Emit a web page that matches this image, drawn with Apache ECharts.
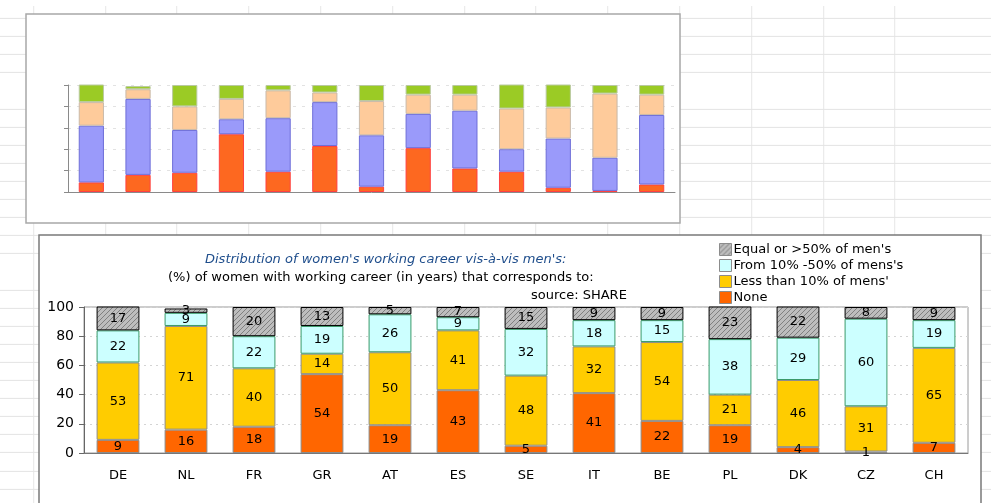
<!DOCTYPE html>
<html>
<head>
<meta charset="utf-8">
<script src="https://cdn.jsdelivr.net/npm/echarts@6/dist/echarts.min.js"></script>
<style>
  html, body {
    margin: 0;
    padding: 0;
    width: 991px;
    height: 503px;
    overflow: hidden;
    background-color: #fff;
    background-image:
      linear-gradient(#fff, #fff),
      repeating-linear-gradient(to bottom, transparent 0, transparent 17.1px, #e3e3e3 17.1px, #e3e3e3 18.1px),
      repeating-linear-gradient(to right, transparent 0, transparent 70.8px, #e6e6e6 70.8px, #e6e6e6 71.8px);
    background-size: 991px 6px, auto, auto;
    background-repeat: no-repeat, repeat, repeat;
    background-position: 0 0, 0 0.9px, -37.8px 0;
  }
  #chart {
    width: 991px;
    height: 503px;
  }
</style>
</head>
<body>
<div id="chart"></div>
<script>
// SHARE: distribution of women's working career vis-a-vis men's (%)
const countries = ['DE', 'NL', 'FR', 'GR', 'AT', 'ES', 'SE', 'IT', 'BE', 'PL', 'DK', 'CZ', 'CH']
const none = [9, 16, 18, 54, 19, 43, 5, 41, 22, 19, 4, 1, 7]
const lessThan10 = [53, 71, 40, 14, 50, 41, 48, 32, 54, 21, 46, 31, 65]
const from10to50 = [22, 9, 22, 19, 26, 9, 32, 18, 15, 38, 29, 60, 19]
const equalOrMore50 = [17, 3, 20, 13, 5, 7, 15, 9, 9, 23, 22, 8, 9]
const yTicks = [0, 20, 40, 60, 80, 100]

const seriesNames = [
  'None',
  "Less than 10% of mens'",
  "From 10% -50% of mens's",
  "Equal or >50% of men's"
]

const FONT = 'DejaVu Sans'

function hatchPattern() {
  const c = document.createElement('canvas')
  c.width = 5
  c.height = 5
  const g = c.getContext('2d')
  g.fillStyle = '#bdbdbd'
  g.fillRect(0, 0, 5, 5)
  g.strokeStyle = '#808080'
  g.lineWidth = 1
  g.beginPath()
  g.moveTo(0, 5); g.lineTo(5, 0)
  g.moveTo(-2.5, 2.5); g.lineTo(2.5, -2.5)
  g.moveTo(2.5, 7.5); g.lineTo(7.5, 2.5)
  g.stroke()
  return c
}

const chart = echarts.init(document.getElementById('chart'))

const lowerLabel = {
  show: true,
  position: 'inside',
  color: '#000',
  fontFamily: FONT,
  fontSize: 13
}

function lowerSeries(name, data, color, border) {
  return {
    name: name,
    type: 'bar',
    stack: 'lower',
    xAxisIndex: 1,
    yAxisIndex: 1,
    barCategoryGap: '37%',
    data: data,
    itemStyle: {color: color, borderColor: border, borderWidth: 1},
    label: lowerLabel,
    emphasis: {disabled: true}
  }
}

function upperSeries(name, data, color, border) {
  return {
    name: name,
    type: 'bar',
    stack: 'upper',
    xAxisIndex: 0,
    yAxisIndex: 0,
    barCategoryGap: '46%',
    data: data,
    itemStyle: {color: color, borderColor: border, borderWidth: 1},
    emphasis: {disabled: true}
  }
}

chart.setOption({
  animation: false,
  textStyle: {fontFamily: FONT},
  graphic: [
    {
      type: 'rect', z: -1,
      shape: {x: 26, y: 14, width: 654, height: 209},
      style: {fill: '#fff', stroke: '#a8a8a8', lineWidth: 1.5}
    },
    {
      type: 'rect', z: -1,
      shape: {x: 39, y: 235, width: 942, height: 290},
      style: {fill: '#fff', stroke: '#7a7a7a', lineWidth: 1.5}
    }
  ],
  title: [
    {
      text: "Distribution of women's working career vis-à-vis men's:",
      left: 205, top: 253, padding: 0,
      textStyle: {fontFamily: FONT, fontSize: 13, fontStyle: 'italic', fontWeight: 'normal', color: '#1f4e8c'}
    },
    {
      text: '(%) of women with working career (in years) that corresponds to:',
      left: 168, top: 271, padding: 0,
      textStyle: {fontFamily: FONT, fontSize: 13, fontWeight: 'normal', color: '#000'}
    },
    {
      text: 'source: SHARE',
      left: 531, top: 289, padding: 0,
      textStyle: {fontFamily: FONT, fontSize: 13, fontWeight: 'normal', color: '#000'}
    }
  ],
  legend: {
    data: seriesNames.slice().reverse(),
    orient: 'vertical',
    left: 719,
    top: 243,
    padding: 0,
    icon: 'rect',
    itemWidth: 12,
    itemHeight: 12,
    itemGap: 3,
    itemStyle: {borderColor: '#8c8c8c', borderWidth: 1},
    textStyle: {fontFamily: FONT, fontSize: 13, color: '#000', padding: [0, 0, 0, -3]},
    selectedMode: false
  },
  grid: [
    {left: 68, right: 316, top: 85, bottom: 311},
    {left: 84, right: 23, top: 307, bottom: 50, show: true, borderColor: '#9a9a9a', borderWidth: 1}
  ],
  xAxis: [
    {
      type: 'category', gridIndex: 0, data: countries,
      axisLine: {lineStyle: {color: '#8a8a8a'}},
      axisTick: {length: 4, lineStyle: {color: '#8a8a8a'}},
      axisLabel: {show: false}
    },
    {
      type: 'category', gridIndex: 1, data: countries,
      axisLine: {lineStyle: {color: '#777'}},
      axisTick: {length: 5, lineStyle: {color: '#777'}},
      axisLabel: {color: '#000', fontFamily: FONT, fontSize: 13, margin: 16}
    }
  ],
  yAxis: [
    {
      type: 'value', gridIndex: 0, min: yTicks[0], max: yTicks[yTicks.length - 1], interval: 20,
      axisLine: {show: true, lineStyle: {color: '#8a8a8a'}},
      axisTick: {show: true, length: 4, lineStyle: {color: '#8a8a8a'}},
      axisLabel: {show: false},
      splitLine: {lineStyle: {color: '#e2e2e2', type: [3, 6]}}
    },
    {
      type: 'value', gridIndex: 1, min: yTicks[0], max: yTicks[yTicks.length - 1], interval: 20,
      axisLine: {show: true, lineStyle: {color: '#666'}},
      axisTick: {show: true, length: 5, lineStyle: {color: '#666'}},
      axisLabel: {color: '#000', fontFamily: FONT, fontSize: 14, margin: 10},
      splitLine: {lineStyle: {color: '#d4d4d4', type: [2, 4]}}
    }
  ],
  series: [
    upperSeries('u0', none, '#fd6820', '#ff4040'),
    upperSeries('u1', lessThan10, '#9a9afa', '#6e6ed8'),
    upperSeries('u2', from10to50, '#fecb9b', '#c9b9a9'),
    upperSeries('u3', equalOrMore50, '#9bcb25', '#b9c9a0'),
    lowerSeries(seriesNames[0], none, '#ff6600', '#8c8c8c'),
    lowerSeries(seriesNames[1], lessThan10, '#ffcc00', '#8c8c8c'),
    lowerSeries(seriesNames[2], from10to50, '#ccffff', '#3a9a6a'),
    lowerSeries(seriesNames[3], equalOrMore50, {image: hatchPattern(), repeat: 'repeat'}, '#000')
  ]
})
</script>
</body>
</html>
